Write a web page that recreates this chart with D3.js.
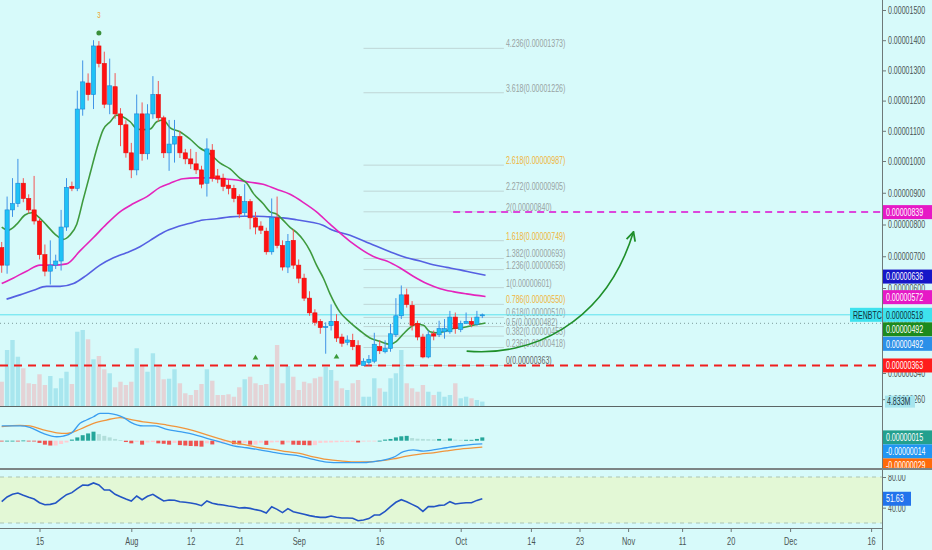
<!DOCTYPE html>
<html>
<head>
<meta charset="utf-8">
<script src="https://cdn.jsdelivr.net/npm/d3@7"></script>
<style>
body { margin: 0; background: #d7fafa; }
svg { display: block; font-family: "Liberation Sans", Arial, sans-serif; }
</style>
</head>
<body>
<svg id="chart" width="932" height="550"></svg>
<script>
// prices in satoshi (1e-8 BTC), one daily candle from 8 Jul 2019
var opens = [727,672,846,866,930,882,846,811,705,653, 672,685,792,920,914,1172,1258,1220,1381,1323,
  1188,1246,1156,1120,1027,972,1156,1024,1156,1220, 1143,1027,1056,1081,1027,1007,991,972,930,1036,
  953,946,924,914,888,837,872,821,795,779, 714,821,734,666,750,672,631,569,524,498,
  479,485,498,450,434,440,424,363,372,376, 421,405,415,457,515,579,547,492,450,389,
  460,457,466,466,511,473,492,498,489,515];
var highs = [745,888,946,1007,946,895,953,820,737,750, 705,846,946,935,1233,1333,1290,1400,1397,1362,
  1339,1291,1175,1135,1060,1220,1194,1188,1281,1265, 1150,1136,1136,1100,1040,1040,1030,985,1075,1056,
  975,960,940,925,895,927,880,840,810,790, 882,888,750,770,785,690,645,590,535,505,
  495,550,520,460,455,460,440,385,395,463, 440,440,490,569,608,598,560,500,460,470,
  470,500,505,530,525,500,525,510,530,522];
var lows = [648,645,824,855,870,835,800,690,637,611, 660,655,780,905,905,1150,1200,1172,1310,1175,
  1155,1140,1049,1011,946,955,1001,1005,1140,1130, 1010,969,995,1010,990,975,959,914,888,935,
  930,905,895,870,820,824,785,769,770,705, 705,725,655,647,660,615,560,515,485,460,
  399,470,435,420,425,410,363,363,363,370, 398,400,405,450,505,540,470,440,385,385,
  440,450,445,460,460,465,490,480,485,508];
var closes = [672,846,866,930,882,846,811,705,653,672, 685,792,917,914,1172,1262,1220,1381,1323,1188,
  1249,1156,1120,1027,972,1156,1024,1156,1220,1143, 1027,1056,1081,1027,1007,991,972,927,1040,946,
  943,920,914,882,833,872,821,792,782,714, 821,734,666,747,672,631,569,524,495,479,
  482,498,447,431,441,421,366,376,382,428, 408,415,460,515,579,550,486,450,389,457,
  453,476,476,511,476,492,498,489,511,518];
// volume in millions
var volumes = [26.7,61.6,72.6,54.2,41.5,25.0,24.2,34.9,23.1,33.0, 19.5,30.5,37.7,24.2,81.7,83.6,73.4,51.4,55.0,40.4,
  36.0,20.6,26.7,23.1,26.7,63.5,44.0,37.7,58.0,43.2, 29.4,30.0,40.4,25.0,14.0,12.1,17.6,24.2,40.4,27.8,
  12.1,12.1,12.9,10.2,20.6,29.4,32.2,25.0,23.1,24.2, 44.0,67.1,25.0,44.0,32.2,17.6,26.7,25.0,30.5,32.2,
  42.9,39.6,27.8,19.5,17.6,25.0,28.6,10.2,10.2,30.5, 19.5,15.7,30.5,36.0,61.6,25.0,19.5,15.7,23.1,15.7,
  12.1,15.7,10.2,12.1,25.0,8.5,10.2,8.5,6.6,4.833];

// moving averages, read as knots (day index, price)
var fastIdx = [0,1.2,2.8,4.3,5.6,6.8,8.3,9.9,11.4,12.6,13.9,15.1,16.4,17.6,18.8,20.1,21.3,22.5,23.8,25,26.2,27.5,28.7,29.9,31.2,33,34.9,36.7,38.6,40.4,42.3,44.1,45.4,46.6,48.4,49.7,50.9,52.1,53.4,54.6,55.9,57.1,58.3,59.6,60.8,62.6,64.5,66.3,68.2,70,71.9,73.1,74.4,75.6,76.9,78.1,79.3,80.6,81.8,83.6,85.5,87.3,89.6];
var fastVal = [792,782,801,830,837,824,798,769,753,766,801,879,962,1040,1104,1130,1152,1146,1130,1107,1104,1106,1130,1136,1110,1097,1072,1043,1023,994,975,946,930,898,866,840,833,814,791,775,750,717,672,630,582,527,495,470,447,437,428,437,460,479,489,486,466,463,466,476,479,486,493];
var midIdx = [0,2.1,4.6,7.1,9.6,12,14.5,17,19.4,21.9,24.4,26.9,29.3,31.2,33.6,36.1,38.6,41,43.5,46,48.4,50.9,53.4,55.9,58.3,60.8,64.5,69.4,71.3,73.8,76.2,78.7,81.2,83.6,86.1,89.6];
var midVal = [614,631,653,672,672,676,717,759,801,840,866,888,917,930,944,947,947,944,940,933,927,911,895,869,840,801,747,695,685,663,637,614,598,589,582,574];
var slowIdx = [0.9,3.4,5.9,8.3,10.8,13.3,15.7,18.2,20.7,23.1,25.6,27.5,29.9,32.4,34.9,37.3,39.8,42.3,44.7,47.2,49.7,52.1,54.6,57.1,59.6,60.8,64.5,68.2,71.9,75,77.5,79.9,82.4,84.9,87.3,89.6];
var slowVal = [566,579,593,605,605,614,640,672,695,711,730,750,775,792,804,814,818,824,826,826,824,821,815,808,797,786,766,740,714,695,685,673,665,657,648,640];

// MACD (same 1e-8 units)
var macdIdx = [0,3.4,5.2,7.7,10.2,11.4,13,14.5,15.7,17,18.2,19.8,21.3,22.5,24,26.2,28.4,30.6,33,35.5,38,40.4,42.9,45.4,47.8,50.3,52.8,55.2,57.7,60.2,62.7,65.1,67.6,70,72.5,74.4,76.2,78.1,79.9,82.4,84.9,87.3,89];
var macdVal = [67,67,61,33,18,21,36,79,94,109,124,124,117,106,82,67,67,52,41,29,11,-5,-23,-32,-42,-53,-62,-70,-85,-97,-100,-100,-99,-91,-76,-50,-42,-47,-42,-32,-23,-17,-14];
var signalIdx = [0,3.4,5.2,7.7,10.2,12,14.5,17,19.4,21.9,23.8,26.2,28.7,30.6,33,35.5,38,40.4,42.9,45.4,47.8,50.3,52.8,55.2,57.7,60.2,62.7,65.1,67.6,70,72.5,75,77.5,79.9,82.4,84.9,87.3,89];
var signalVal = [64,70,67,49,36,33,52,79,94,105,97,86,79,71,61,46,26,8,-9,-20,-32,-39,-50,-58,-73,-85,-92,-96,-96,-92,-83,-70,-61,-55,-46,-38,-33,-29];
var macdHist = [-1,0,0,-1,1,-2,-3,-10,-18,-22, -22,-15,-8,5,15,25,33,41,30,22,
  15,8,3,-6,-12,-5,-18,-8,-6,-12, -14,-18,-10,-20,-22,-24,-25,-27,-12,-17,
  -9,-8,-8,-16,-17,-10,-18,-18,-9,-19, -8,-7,-17,-8,-18,-19,-20,-21,-20,-10,
  -9,-8,-7,-6,-6,-5,-8,-4,-3,-2, 0,5,8,15,20,22,12,9,8,7,
  6,8,5,10,5,4,4,4,8,15];

var rsi = [47.8,53.9,57.4,59.1,56.1,53.5,51.3,46.5,43.9,44.3, 46.1,51.7,57.0,59.6,64.8,69.6,69.1,72.2,69.6,63.0,
  63.0,57.4,54.3,51.3,48.7,55.2,50.4,54.8,57.4,53.0, 48.7,50.0,49.6,47.8,47.0,46.1,44.8,42.6,48.7,45.7,
  44.3,43.5,42.2,41.3,39.6,40.0,39.1,37.4,36.1,33.0, 41.3,37.8,33.5,38.7,34.8,33.0,31.3,29.6,28.3,27.4,
  27.4,29.1,27.4,26.5,26.5,26.1,23.0,23.9,25.7,30.4, 30.4,35.2,41.3,47.0,50.4,47.8,44.3,40.9,35.2,41.3,
  41.3,43.0,43.5,47.8,44.8,45.7,46.5,46.5,49.5,51.63];

// fibonacci levels
var fibRatios = [0,0.236,0.382,0.5,0.618,0.786,1,1.236,1.382,1.618,2,2.272,2.618,3.618,4.236];
var fibPrices = [363,418,453,482,510,550,601,658,693,749,840,905,987,1226,1373];
var fibGold = [0.786,1.618,2.618];

// right-axis tags
var tagValues = [839,636,572,518,492,492,363];
var tagColors = ["#e619c6","#1616c8","#e619c6","#3ee2ee","#1d8a1d","#2b8fe8","#ff1c1c"];
var tagNames = ["","","","RENBTC","","",""];

var priceTicks = [1500,1400,1300,1200,1100,1000,900,800,700,600,500,340,260];
var rsiTicks = [80,40];
var dateTicks = ["2019-07-15","2019-08-01","2019-08-12","2019-08-21","2019-09-01","2019-09-16","2019-10-01",
  "2019-10-14","2019-10-23","2019-11-01","2019-11-11","2019-11-20","2019-12-01","2019-12-16"];

// annotation: projected path (day index, price)
var arrowIdx = [86.1,97.8,111.7,117];
var arrowPrice = [407,389,487,777];

var W = 932, H = 550, axisX = 882;
var svg = d3.select("#chart");
svg.append("rect").attr("width", W).attr("height", H).attr("fill", "#d7fafa");

var start = Date.UTC(2019, 6, 8);
function day(i) { return new Date(start + i * 864e5); }
var x = d3.scaleUtc().domain([day(0), day(163)]).range([1.7, 881.9]);
function xi(i) { return x(day(i)); }

var y = d3.scaleLinear().domain([340, 600, 1000, 1500]).range([373, 288, 161, 10]);
var yVol = d3.scaleLinear().domain([0, 110]).range([406, 306]);
var yMacd = d3.scaleLinear().domain([-150, 150]).range([473.7, 407.7]);
var yRsi = d3.scaleLinear().domain([20, 80]).range([523, 477]);

var defs = svg.append("defs");
function clip(id, y0, h) {
  defs.append("clipPath").attr("id", id).append("rect").attr("x", 0).attr("y", y0).attr("width", axisX).attr("height", h);
}
clip("cMain", 0, 406); clip("cMacd", 407, 62); clip("cRsi", 470, 58);
defs.append("marker").attr("id", "head").attr("viewBox", "0 0 10 10").attr("refX", 9).attr("refY", 5)
  .attr("markerWidth", 7).attr("markerHeight", 7).attr("orient", "auto")
  .append("path").attr("d", "M1,1 L9,5 L1,9").attr("fill", "none").attr("stroke", "#1f8f2a").attr("stroke-width", 1.6);

var idx = d3.range(closes.length);
function up(i) { return closes[i] >= opens[i]; }

var main = svg.append("g").attr("clip-path", "url(#cMain)");

// volume
main.append("g").selectAll("rect").data(idx).join("rect")
  .attr("x", i => xi(i) - 2.2).attr("width", 4.4)
  .attr("y", i => yVol(volumes[i])).attr("height", i => yVol(0) - yVol(volumes[i]))
  .attr("fill", i => up(i) ? "#a8e6ee" : "#e4d3d6");

// fib lines and labels
var fib = main.append("g");
fib.selectAll("line").data(fibPrices).join("line")
  .attr("x1", xi(67)).attr("x2", xi(93)).attr("y1", p => y(p)).attr("y2", p => y(p))
  .attr("stroke", "#bfd6d6").attr("stroke-width", 1);
fib.selectAll("text").data(fibRatios).join("text")
  .attr("x", xi(93) + 2).attr("y", (r, k) => y(fibPrices[k]) - 1)
  .attr("font-size", 10.5)
  .attr("fill", r => fibGold.includes(r) ? "#f0b43c" : (r === 0 ? "#5f6868" : "#98a3a3"))
  .text((r, k) => r + "(" + (fibPrices[k] * 1e-8).toFixed(8) + ")");

// horizontal levels
function hline(p, x1, color, w, dash) {
  main.append("line").attr("x1", x1).attr("x2", axisX).attr("y1", y(p)).attr("y2", y(p))
    .attr("stroke", color).attr("stroke-width", w).attr("stroke-dasharray", dash);
}
hline(518, 0, "#5ce2ee", 1, null);
hline(492, 0, "#7c9c9c", 1, "1,3");
hline(363, 0, "#f01e1e", 2, "8,6");
hline(839, xi(83.6), "#dc46dc", 2, "7,5");

// moving averages
function maLine(ix, vals, color, w) {
  main.append("path").datum(d3.zip(ix, vals))
    .attr("d", d3.line().curve(d3.curveMonotoneX).x(d => xi(d[0])).y(d => y(d[1])))
    .attr("fill", "none").attr("stroke", color).attr("stroke-width", w);
}
maLine(slowIdx, slowVal, "#5560e2", 1.6);
maLine(midIdx, midVal, "#e424bc", 1.6);
maLine(fastIdx, fastVal, "#3e9a3e", 1.6);

// candles
var cg = main.append("g");
cg.selectAll("line").data(idx).join("line")
  .attr("x1", i => xi(i)).attr("x2", i => xi(i))
  .attr("y1", i => y(highs[i])).attr("y2", i => y(lows[i]))
  .attr("stroke", i => up(i) ? "#3f93e6" : "#f25555").attr("stroke-width", 1);
cg.selectAll("rect").data(idx).join("rect")
  .attr("x", i => xi(i) - 2.1).attr("width", 4.2)
  .attr("y", i => y(Math.max(opens[i], closes[i])))
  .attr("height", i => Math.max(1, Math.abs(y(opens[i]) - y(closes[i]))))
  .attr("fill", i => up(i) ? "#1fc2f6" : "#ff1212")
  .attr("stroke", i => up(i) ? "#1c86d8" : "#e80c0c").attr("stroke-width", 0.6);

// markers
main.append("circle").attr("cx", xi(18)).attr("cy", y(1424)).attr("r", 2.5).attr("fill", "#3a8f3a");
main.append("text").attr("x", xi(18)).attr("y", y(1483) + 3).attr("text-anchor", "middle")
  .attr("font-size", 9).attr("fill", "#eea030").text("3");
[[47, 386], [62, 389]].forEach(function (m) {
  main.append("path").attr("d", d3.symbol(d3.symbolTriangle, 14)())
    .attr("transform", "translate(" + xi(m[0]) + "," + y(m[1]) + ")").attr("fill", "#3a9a3a");
});

// projected arrow
var ap = d3.path();
ap.moveTo(xi(arrowIdx[0]), y(arrowPrice[0]));
ap.bezierCurveTo(xi(arrowIdx[1]), y(arrowPrice[1]), xi(arrowIdx[2]), y(arrowPrice[2]), xi(arrowIdx[3]), y(arrowPrice[3]));
main.append("path").attr("d", ap.toString()).attr("fill", "none")
  .attr("stroke", "#1f8f2a").attr("stroke-width", 1.6).attr("marker-end", "url(#head)");

// MACD pane
var mg = svg.append("g").attr("clip-path", "url(#cMacd)");
function histColor(i) {
  var v = macdHist[i], p = i > 0 ? macdHist[i - 1] : 0;
  if (v >= 0) return v >= p ? "#26a69a" : "#b2dfdb";
  return v < p ? "#ef5350" : "#ffcdd2";
}
mg.selectAll("rect").data(idx).join("rect")
  .attr("x", i => xi(i) - 2).attr("width", 4)
  .attr("y", i => Math.min(yMacd(0), yMacd(macdHist[i])))
  .attr("height", i => Math.max(0.8, Math.abs(yMacd(macdHist[i]) - yMacd(0))))
  .attr("fill", histColor);
function paneLine(g, ix, vals, sy, color) {
  g.append("path").datum(d3.zip(ix, vals))
    .attr("d", d3.line().curve(d3.curveMonotoneX).x(d => xi(d[0])).y(d => sy(d[1])))
    .attr("fill", "none").attr("stroke", color).attr("stroke-width", 1.3);
}
paneLine(mg, signalIdx, signalVal, yMacd, "#f0953c");
paneLine(mg, macdIdx, macdVal, yMacd, "#3a9ef0");

// RSI pane
var rg = svg.append("g").attr("clip-path", "url(#cRsi)");
rg.append("rect").attr("x", 0).attr("width", axisX).attr("y", yRsi(80)).attr("height", yRsi(20) - yRsi(80)).attr("fill", "#e3f8d6");
[80, 20].forEach(function (v) {
  rg.append("line").attr("x1", 0).attr("x2", axisX).attr("y1", yRsi(v)).attr("y2", yRsi(v))
    .attr("stroke", "#aac4b4").attr("stroke-dasharray", "4,4");
});
rg.append("path").attr("d", d3.line().x((v, k) => xi(k)).y(v => yRsi(v))(rsi))
  .attr("fill", "none").attr("stroke", "#2355c4").attr("stroke-width", 1.6);

// frames
svg.append("line").attr("x1", 0).attr("x2", axisX).attr("y1", 406.5).attr("y2", 406.5).attr("stroke", "#5a6464");
svg.append("line").attr("x1", 0).attr("x2", W).attr("y1", 469).attr("y2", 469).attr("stroke", "#7c8484").attr("stroke-width", 2);
svg.append("line").attr("x1", 0).attr("x2", axisX).attr("y1", 528.5).attr("y2", 528.5).attr("stroke", "#6e7878");
svg.append("line").attr("x1", axisX + 0.5).attr("x2", axisX + 0.5).attr("y1", 0).attr("y2", H).attr("stroke", "#6e7878");

// axes
var ra = svg.append("g").attr("transform", "translate(" + axisX + ",0)")
  .call(d3.axisRight(y).tickValues(priceTicks).tickSize(4).tickPadding(2).tickFormat(v => (v * 1e-8).toFixed(8)));
ra.select(".domain").remove();
ra.attr("font-family", null).attr("font-size", 10.5);
ra.selectAll("line").attr("stroke", "#6e7878");
ra.selectAll("text").attr("fill", "#4a5454");

var rr = svg.append("g").attr("transform", "translate(" + axisX + ",0)")
  .call(d3.axisRight(yRsi).tickValues(rsiTicks).tickSize(4).tickPadding(2).tickFormat(d3.format(".2f")));
rr.select(".domain").remove();
rr.attr("font-family", null).attr("font-size", 10.5);
rr.selectAll("line").attr("stroke", "#6e7878");
rr.selectAll("text").attr("fill", "#4a5454");

var parse = d3.utcParse("%Y-%m-%d");
var xa = svg.append("g").attr("transform", "translate(0,528)")
  .call(d3.axisBottom(x).tickValues(dateTicks.map(parse)).tickSize(4).tickPadding(5)
    .tickFormat(d => d.getUTCDate() === 1 ? d3.utcFormat("%b")(d) : d3.utcFormat("%-d")(d)));
xa.select(".domain").remove();
xa.attr("font-family", null).attr("font-size", 11);
xa.selectAll("line").attr("stroke", "#6e7878");
xa.selectAll("text").attr("fill", "#4a5454");

// tags
var tags = svg.append("g");
function tag(yc, txt, bg, fg, x0, w) {
  tags.append("rect").attr("x", x0).attr("y", yc - 7).attr("width", w).attr("height", 14).attr("fill", bg);
  tags.append("text").attr("x", x0 + 3).attr("y", yc + 3.7).attr("font-size", 10.5).attr("fill", fg).text(txt);
}
function stack(list, gap) {
  list.sort((a, b) => a.y - b.y);
  for (var k = 1; k < list.length; k++) if (list[k].y < list[k - 1].y + gap) list[k].y = list[k - 1].y + gap;
  return list;
}
var fmt = v => (v * 1e-8).toFixed(8);
stack(tagValues.map((v, k) => ({ y: y(v), v: v, k: k })), 14.5).forEach(function (t) {
  var dark = tagNames[t.k] !== "";
  tag(t.y, fmt(t.v), tagColors[t.k], dark ? "#10303a" : "#ffffff", axisX + 1, 49);
  if (dark) tag(t.y, tagNames[t.k], tagColors[t.k], "#10303a", 850, 32);
});
var lastVol = volumes[volumes.length - 1];
tags.append("rect").attr("x", 885).attr("y", yVol(lastVol) - 6).attr("width", 30).attr("height", 12).attr("fill", "#a6e5ee");
tags.append("text").attr("x", 887).attr("y", yVol(lastVol) + 3.5).attr("font-size", 10.5).attr("fill", "#17323c").text(lastVol + "M");

var last = closes.length - 1;
var macdTags = [
  { y: yMacd(macdHist[last]), v: macdHist[last], c: "#23a08e" },
  { y: yMacd(macdVal[macdVal.length - 1]), v: macdVal[macdVal.length - 1], c: "#2196f3" },
  { y: yMacd(signalVal[signalVal.length - 1]), v: signalVal[signalVal.length - 1], c: "#ff6a0a" }
];
stack(macdTags, 14).forEach(t => tag(t.y, fmt(t.v), t.c, "#ffffff", axisX + 1, 49));
// keep pane border over the last tag
svg.append("line").attr("x1", axisX).attr("x2", W).attr("y1", 469).attr("y2", 469).attr("stroke", "#7c8484").attr("stroke-width", 2);
svg.append("rect").attr("x", axisX + 1).attr("y", 470).attr("width", 50).attr("height", 5).attr("fill", "#d7fafa");
tag(yRsi(rsi[last]), d3.format(".2f")(rsi[last]), "#2273ec", "#ffffff", axisX + 1, 28);

// narrow type, as on the reference
svg.selectAll("text").each(function () {
  var w = this.getComputedTextLength();
  if (w > 0) d3.select(this).attr("textLength", w * 0.67).attr("lengthAdjust", "spacingAndGlyphs");
});
</script>
</body>
</html>
